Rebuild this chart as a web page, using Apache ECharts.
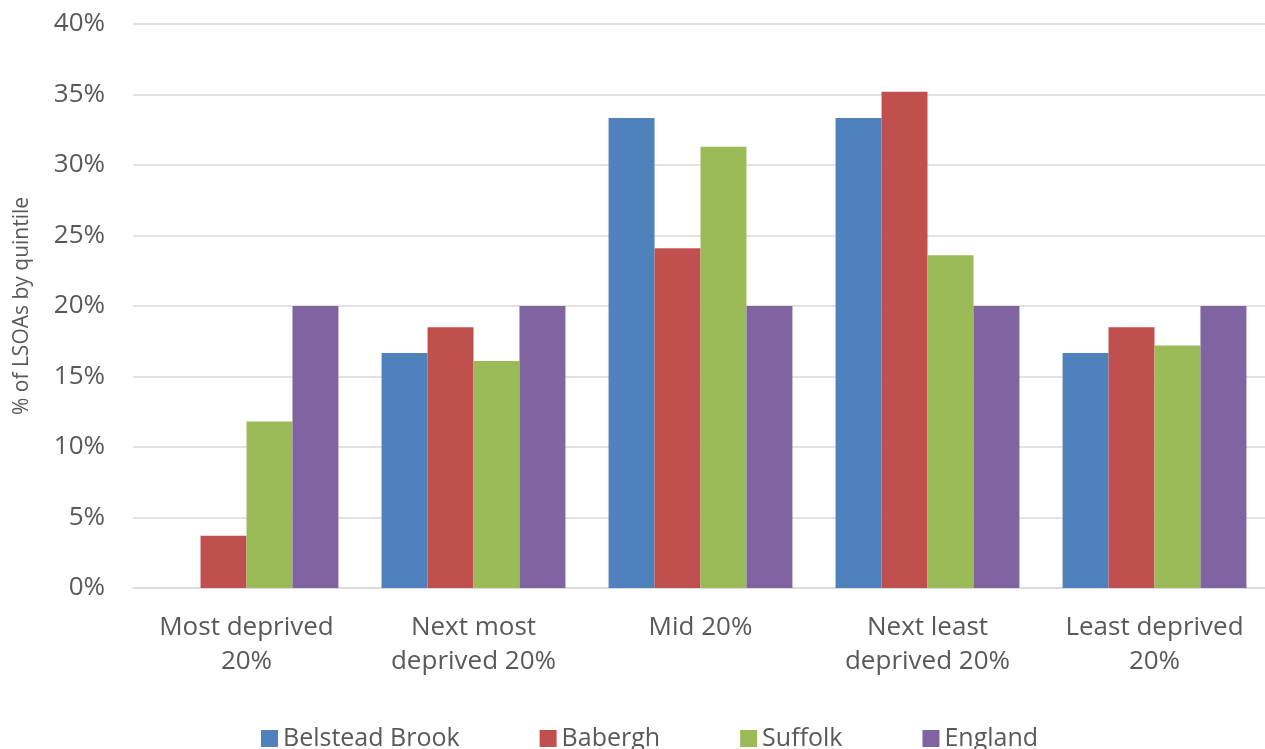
<!DOCTYPE html>
<html><head><meta charset="utf-8">
<script src="https://cdn.jsdelivr.net/npm/echarts@6/dist/echarts.min.js"></script>
<style>html,body{margin:0;padding:0;background:#fff}#c{width:1265px;height:749px}</style>
</head><body><div id="c"></div>
<script>
const categories = ['Most deprived\n20%', 'Next most\ndeprived 20%', 'Mid 20%', 'Next least\ndeprived 20%', 'Least deprived\n20%'];
const seriesNames = ['Belstead Brook', 'Babergh', 'Suffolk', 'England'];
const belsteadBrook = [0, 16.67, 33.33, 33.33, 16.67];
const babergh = [3.7, 18.5, 24.1, 35.2, 18.5];
const suffolk = [11.8, 16.1, 31.3, 23.6, 17.2];
const england = [20, 20, 20, 20, 20];
const colors = ['#4F81BD', '#C0504D', '#9BBB59', '#8064A2'];
const yTicks = [0, 5, 10, 15, 20, 25, 30, 35, 40];

const font = 'Open Sans';
const txt = '#595959';
const data = [belsteadBrook, babergh, suffolk, england];
const chart = echarts.init(document.getElementById('c'));
chart.setOption({
  animation: false,
  color: colors,
  grid: { left: 133, top: 24, width: 1135, height: 564, containLabel: false, outerBoundsMode: 'none' },
  legend: {
    data: seriesNames, top: 721, left: 256, itemWidth: 17, itemHeight: 17, itemGap: 80,
    icon: 'rect',
    textStyle: { fontFamily: font, fontSize: 25, color: txt }
  },
  xAxis: {
    type: 'category', data: categories,
    axisLine: { lineStyle: { color: '#d9d9d9', width: 1.5 } },
    axisTick: { show: false },
    axisLabel: { fontFamily: font, fontSize: 26, color: txt, margin: 23, lineHeight: 34, interval: 0 }
  },
  yAxis: {
    type: 'value', min: yTicks[0], max: yTicks[yTicks.length - 1], interval: 5,
    name: '% of LSOAs by quintile', nameLocation: 'middle', nameGap: 100,
    nameTextStyle: { fontFamily: font, fontSize: 21, color: txt },
    axisLine: { show: false }, axisTick: { show: false },
    splitLine: { lineStyle: { color: '#d9d9d9', width: 1.5 } },
    axisLabel: { fontFamily: font, fontSize: 26, color: txt, margin: 28, formatter: v => v + '%' }
  },
  series: seriesNames.map((n, i) => ({
    name: n, type: 'bar', data: data[i], barGap: '0%', barCategoryGap: '19%'
  }))
});
</script></body></html>
